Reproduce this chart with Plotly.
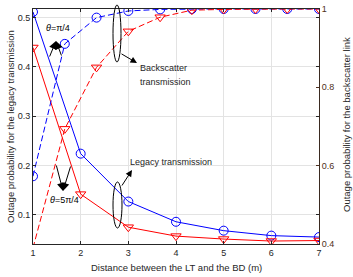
import plotly.graph_objects as go

# ---- data ----
distance = [1, 2, 3, 4, 5, 6, 7]
legacy_pi4 = [0.511, 0.224, 0.127, 0.086, 0.068, 0.058, 0.055]
legacy_5pi4 = [0.439, 0.142, 0.075, 0.057, 0.051, 0.047, 0.048]

distance_bs = [1, 1.667, 2.333, 3, 3.667, 4.333, 5, 5.667, 6.333, 7]
backscatter_pi4 = [0.573, 0.911, 0.978, 0.995, 0.999, 1.0, 1.0, 1.0, 1.0, 1.0]
backscatter_5pi4 = [0.39, 0.694, 0.851, 0.943, 0.979, 0.997, 0.999, 1.0, 1.0, 1.0]

left_ticks = [0.1, 0.2, 0.3, 0.4, 0.5]
right_ticks = [0.4, 0.6, 0.8, 1.0]
right_ticktext = ["0.4", "0.6", "0.8", "1"]
x_ticks = [1, 2, 3, 4, 5, 6, 7]

BLUE = "#0000ff"
RED = "#ff0000"
AX = "#262626"
BROWN = "#4f3020"
FONT = "Liberation Sans, Arial, sans-serif"
DASH = "6px,3px"

fig = go.Figure()

fig.add_trace(go.Scatter(x=distance, y=legacy_pi4, mode="lines+markers",
                         line=dict(color=BLUE, width=1),
                         marker=dict(symbol="circle-open", size=9, color=BLUE, line=dict(width=1)),
                         showlegend=False))
fig.add_trace(go.Scatter(x=distance, y=legacy_5pi4, mode="lines+markers",
                         line=dict(color=RED, width=1),
                         marker=dict(symbol="triangle-down-open", size=9, color=RED, line=dict(width=1)),
                         showlegend=False))
fig.add_trace(go.Scatter(x=distance_bs, y=backscatter_pi4, mode="lines+markers", yaxis="y2",
                         line=dict(color=BLUE, width=1, dash=DASH),
                         marker=dict(symbol="circle-open", size=9, color=BLUE, line=dict(width=1)),
                         showlegend=False))
fig.add_trace(go.Scatter(x=distance_bs, y=backscatter_5pi4, mode="lines+markers", yaxis="y2",
                         line=dict(color=RED, width=1, dash=DASH),
                         marker=dict(symbol="triangle-down-open", size=9, color=RED, line=dict(width=1)),
                         showlegend=False))

W, H = 353, 277
L, R, T, B = 33, 34, 9, 33
PW, PH = W - L - R, H - T - B


def fx(px):
    return (px - L) / PW


def fy(py):
    return (H - B - py) / PH


annotations = []
shapes = []


def text_at(px, py, text, size=9, color="#262626", xanchor="center", angle=0):
    annotations.append(dict(xref="paper", yref="paper", x=fx(px), y=fy(py), text=text,
                            xanchor=xanchor, yanchor="middle", showarrow=False, textangle=angle,
                            font=dict(size=size, family=FONT, color=color)))


def arrow_to(px, py, ax_, ay_, size=1.6):
    annotations.append(dict(xref="paper", yref="paper", x=fx(px), y=fy(py), text="",
                            showarrow=True, ax=ax_, ay=ay_, arrowhead=2, arrowsize=size,
                            arrowwidth=1, arrowcolor="#000"))


# theta = pi/4 annotation
text_at(58, 28, "<i>θ</i>=π/4", color="#000")
arrow_to(56, 41, -7, 17)
arrow_to(56, 41, 6, 16)

# theta = 5pi/4 annotation
text_at(64, 200, "<i>θ</i>=5π/4", color="#000")
arrow_to(63, 191, -7, -27)
arrow_to(63, 191, 8, -26)

# Backscatter transmission
shapes.append(dict(type="circle", xref="paper", yref="paper", x0=fx(113), x1=fx(121),
                   y0=fy(62), y1=fy(5), line=dict(color="#000", width=1)))
arrow_to(137, 63, -17, -10, size=1.3)
text_at(138, 68, "Backscatter", xanchor="left")
text_at(138, 82, "transmission", xanchor="left")

# Legacy transmission
shapes.append(dict(type="circle", xref="paper", yref="paper", x0=fx(113), x1=fx(122),
                   y0=fy(228), y1=fy(182), line=dict(color="#000", width=1)))
arrow_to(132, 170, -11, 17, size=1.3)
text_at(128, 162, "Legacy transmission", xanchor="left")

# axis titles
text_at(176, 267, "Distance between the LT and the BD (m)", size=9.5)
text_at(10, 127, "Outage probability for the legacy transmission", size=9.5, angle=-90)
text_at(346, 125, "Outage probability for the backscatter link", size=9.5, angle=-90)

fig.update_layout(
    width=W, height=H,
    margin=dict(l=L, r=R, t=T, b=B, pad=0, autoexpand=False),
    paper_bgcolor="white", plot_bgcolor="white",
    font=dict(family=FONT, size=9, color="#262626"),
    xaxis=dict(range=[1, 7], tickvals=x_ticks, ticks="inside", ticklen=3, tickcolor=AX,
               showline=True, linecolor=AX, linewidth=1, mirror="ticks", automargin=False,
               showgrid=True, gridcolor="#e3e3e3", gridwidth=1, zeroline=False,
               tickfont=dict(size=9, family=FONT, color="#262626")),
    yaxis=dict(range=[0.041, 0.517], tickvals=left_ticks, ticks="inside", ticklen=3, tickcolor=AX,
               showline=True, linecolor=AX, linewidth=1, mirror="ticks", automargin=False,
               showgrid=True, gridcolor="#e3e3e3", gridwidth=1, zeroline=False,
               tickfont=dict(size=9, family=FONT, color="#262626")),
    yaxis2=dict(range=[0.4, 1.0], overlaying="y", side="right", tickvals=right_ticks,
                ticktext=right_ticktext, ticks="inside", ticklen=3, tickcolor=BROWN,
                showline=True, linecolor="#3a2a20", linewidth=1, showgrid=False, zeroline=False,
                automargin=False,
                tickfont=dict(size=9, family=FONT, color=BROWN)),
    annotations=annotations,
    shapes=shapes,
)

fig.write_html("out.html", config={"displayModeBar": False},
               post_script="document.body.style.margin='0';document.body.style.overflow='hidden';")
